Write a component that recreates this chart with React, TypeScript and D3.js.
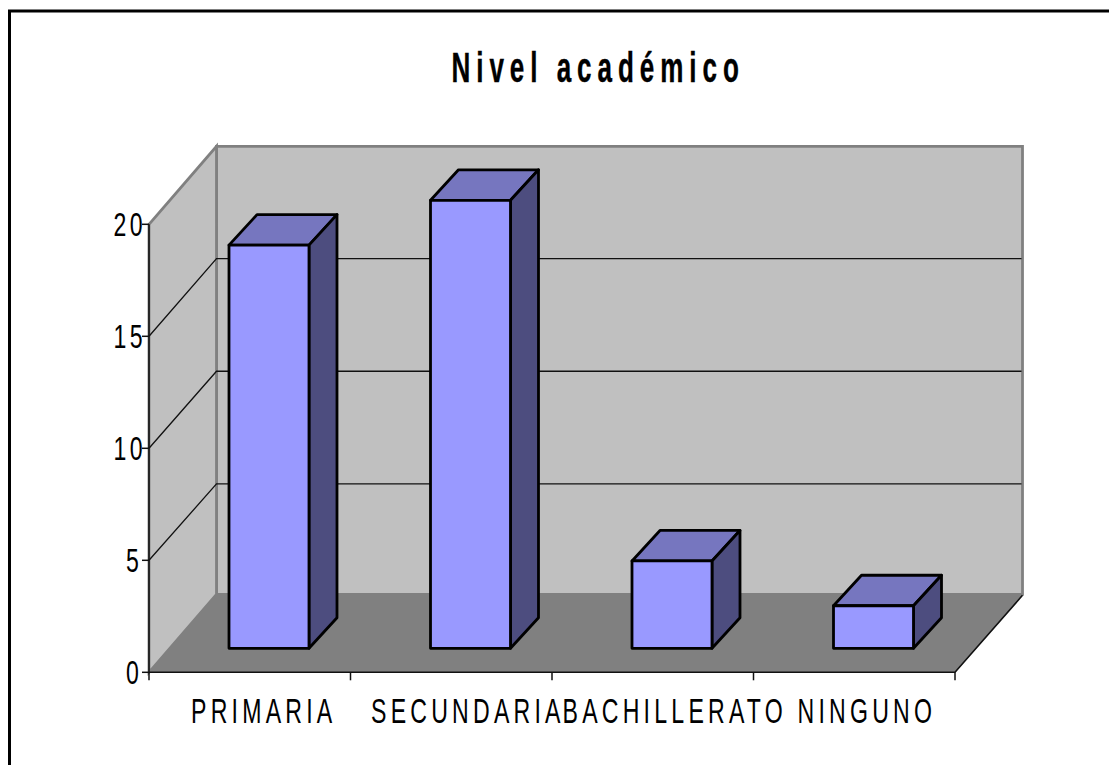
import React from "react";
import * as d3 from "d3";

const categories = ["PRIMARIA", "SECUNDARIA", "BACHILLERATO", "NINGUNO"];
const values = [18, 20, 3.9, 1.9];
const yTicks = [0, 5, 10, 15, 20];
const titleText = "Nivel académico";
const labelInset = [43.5, 22, 12, 45.5];

const W = 1109, H = 765;
const FRONT_L = 149, FRONT_R = 955, FRONT_B = 672.3, FRONT_T = 224.3;
const DX = 67.5, DY = -78;
const BAR_DX = 28, BAR_DY = -30.5, BAR_OFF_B = -24;

const x = d3.scaleBand<string>().domain(categories).range([FRONT_L, FRONT_R]).paddingInner(0).paddingOuter(0);
const y = d3.scaleLinear().domain([0, 20]).range([FRONT_B, FRONT_T]);
const yBack = d3.scaleLinear().domain([0, 20]).range([596.5, 146]);
const poly = (p: number[][]) => d3.line()(p as [number, number][]) + "Z";
const condensed = (cx: number, cy: number, sx: number) => `translate(${cx},${cy}) scale(${sx},1)`;

export default function App() {
  const grey = "#808080";
  const BL = FRONT_L + DX, BR = FRONT_R + DX, BT = FRONT_T + DY, BB = FRONT_B + DY;
  return (
    <svg width={W} height={H} style={{ position: "absolute", left: 0, top: 0 }} fontFamily="'Liberation Sans'">
      <rect x={9.5} y={11} width={1130} height={790} fill="#fff" stroke="#000" strokeWidth={3} />
      <g transform={condensed(451.5, 82, 0.62)}>
        <text fontSize={42} fontWeight={700} letterSpacing={9.6} stroke="#000" strokeWidth={0.4}>{titleText}</text>
      </g>
      {/* walls */}
      <path d={poly([[BL, BT], [BR, BT], [BR, BB], [BL, BB]])} fill="#c0c0c0" stroke={grey} strokeWidth={2.8} />
      <path d={poly([[FRONT_L, FRONT_T], [BL, BT], [BL, BB], [FRONT_L, FRONT_B]])} fill="#c0c0c0" stroke={grey} strokeWidth={2.8} />
      <path d={poly([[FRONT_L, FRONT_B], [BL, BB], [BR, BB], [FRONT_R, FRONT_B]])} fill="#808080" stroke={grey} strokeWidth={1} />
      {/* gridlines */}
      {yTicks.filter((t) => t > 0 && t < 20).map((t) => (
        <path key={t} d={d3.line()([[FRONT_L, y(t)], [BL, yBack(t)], [BR - 1, yBack(t)]] as [number, number][])!} fill="none" stroke="#111" strokeWidth={1.3} />
      ))}
      {/* axes */}
      <path d={`M${FRONT_L},${FRONT_T}V${FRONT_B}H${FRONT_R}L${BR},${BB + 1}`} fill="none" stroke="#111" strokeWidth={1.6} />
      {yTicks.map((t) => (
        <g key={t}>
          <line x1={FRONT_L - 7} x2={FRONT_L} y1={y(t)} y2={y(t)} stroke="#111" strokeWidth={1.5} />
          <g transform={condensed(`${t}`.length > 1 ? 113.5 : 126, y(t) + 12, 0.7)}>
            <text fontSize={33} letterSpacing={4.8}>{t}</text>
          </g>
        </g>
      ))}
      {[...categories.map((c) => x(c)!), FRONT_R].map((px, i) => (
        <line key={i} x1={px} x2={px} y1={FRONT_B} y2={FRONT_B + 8} stroke="#111" strokeWidth={1.5} />
      ))}
      {categories.map((c, i) => (
        <g key={c} transform={condensed(x(c)! + labelInset[i] - 1.5, 723, 0.67)}>
          <text fontSize={34.5} letterSpacing={6.3}>{c}</text>
        </g>
      ))}
      {/* bars */}
      {categories.map((c, i) => {
        const bw = x.bandwidth() * 0.397;
        const l = x(c)! + 80;
        const r = l + bw;
        const b = FRONT_B + BAR_OFF_B;
        const t = y(values[i]) + BAR_OFF_B;
        const st = { stroke: "#000", strokeWidth: 2.8, strokeLinejoin: "round" as const };
        return (
          <g key={c}>
            <path d={poly([[l, t], [l + BAR_DX, t + BAR_DY], [r + BAR_DX, t + BAR_DY], [r, t]])} fill="#7676bf" {...st} />
            <path d={poly([[r, t], [r + BAR_DX, t + BAR_DY], [r + BAR_DX, b + BAR_DY], [r, b]])} fill="#4d4d7f" {...st} />
            <path d={poly([[l, t], [r, t], [r, b], [l, b]])} fill="#9999ff" {...st} />
          </g>
        );
      })}
    </svg>
  );
}
